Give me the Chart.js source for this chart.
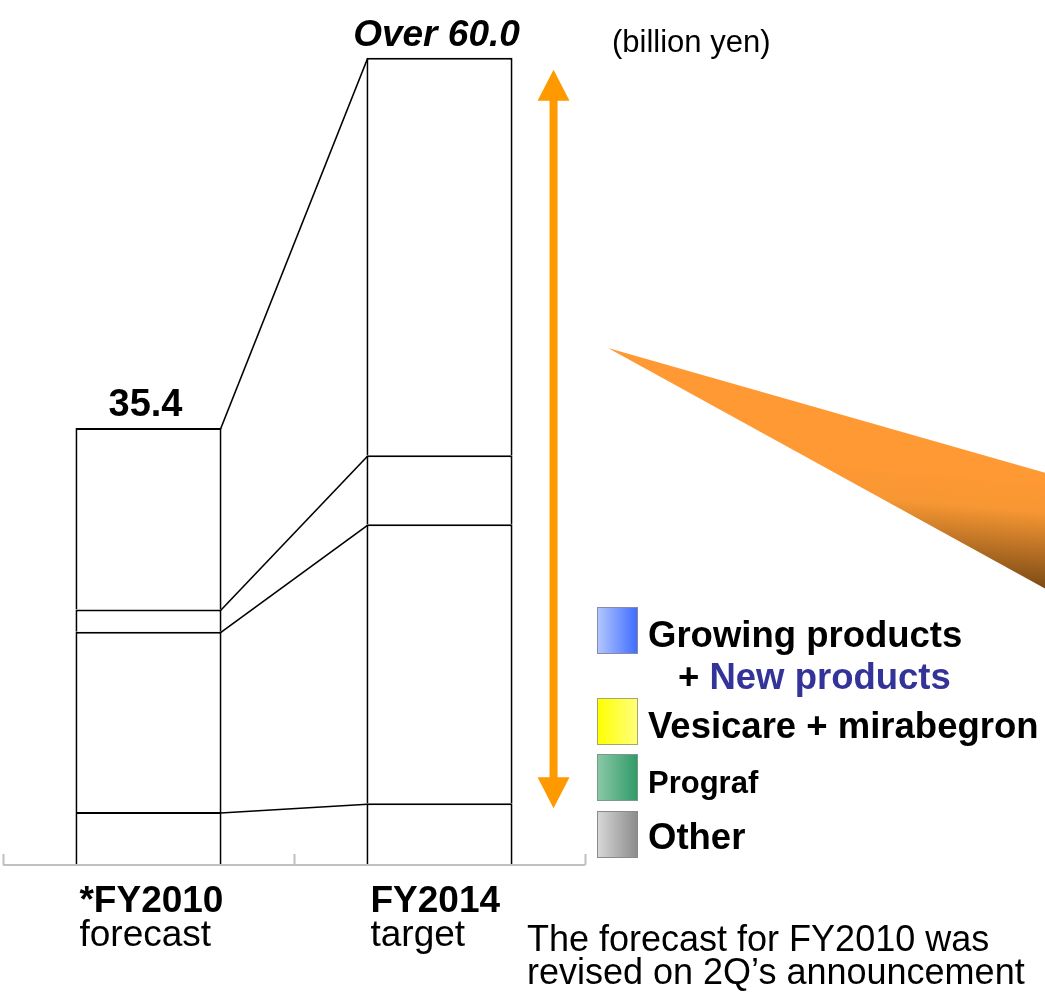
<!DOCTYPE html>
<html>
<head>
<meta charset="utf-8">
<script src="https://cdn.jsdelivr.net/npm/chart.js@4"></script>
<style>
  html, body { margin: 0; padding: 0; background: #fff; }
  #wrap { width: 1045px; height: 994px; position: relative; }
</style>
</head>
<body>
<div id="wrap"><canvas id="chart" width="1045" height="994"></canvas></div>
<script>
// data (billion yen)
const categories = ['FY2010', 'FY2014'];
const tickTop = ['*FY2010', 'FY2014'];
const tickBottom = ['forecast', 'target'];
const totalLabels = ['35.4', 'Over 60.0'];

const otherValues = [4.3, 5.0];
const prografValues = [14.6, 22.6];
const vesicareValues = [1.8, 5.6];
const growingValues = [14.7, 32.2];

const FONT = '"Liberation Sans", Arial, sans-serif';

// legend entries, drawn by hand (mixed colours in one entry)
const legendItems = [
  { colors: ['#b4c8ff', '#3d6bff'], border: '#8a8aa8' },
  { colors: ['#ffff00', '#ffff80'], border: '#a8a860' },
  { colors: ['#8cc8a8', '#2e9a66'], border: '#7a9a8a' },
  { colors: ['#d8d8d8', '#8a8a8a'], border: '#8a8a8a' }
];

function segment(label, values) {
  return {
    label: label,
    data: values,
    backgroundColor: '#ffffff',
    borderColor: '#000000',
    borderWidth: 2,
    barPercentage: 1,
    categoryPercentage: 0.502
  };
}

const extras = {
  id: 'extras',
  afterDatasetsDraw(chart) {
    const ctx = chart.ctx;
    const area = chart.chartArea;
    const xs = chart.scales.x;
    const n = categories.length;
    const metas = chart.data.datasets.map((d, i) => chart.getDatasetMeta(i));

    ctx.save();

    // connecting lines between the two bars
    ctx.strokeStyle = '#000';
    ctx.lineWidth = 1.6;
    metas.forEach(meta => {
      const a = meta.data[0], b = meta.data[1];
      ctx.beginPath();
      ctx.moveTo(a.x + a.width / 2 - 1, a.y + 1);
      ctx.lineTo(b.x - b.width / 2 + 1, b.y + 1);
      ctx.stroke();
    });

    // baseline + inward ticks at category edges
    const step = xs.getPixelForValue(1) - xs.getPixelForValue(0);
    ctx.strokeStyle = '#c0c0c0';
    ctx.lineWidth = 2;
    ctx.beginPath();
    ctx.moveTo(area.left, area.bottom);
    ctx.lineTo(area.right, area.bottom);
    for (let i = 0; i <= n; i++) {
      const x = Math.round(xs.getPixelForValue(0) - step / 2 + i * step) + 0.5;
      ctx.moveTo(x, area.bottom);
      ctx.lineTo(x, area.bottom - 11);
    }
    ctx.stroke();

    // totals above the bars
    const top = metas[metas.length - 1];
    ctx.fillStyle = '#000';
    ctx.textAlign = 'center';
    ctx.textBaseline = 'alphabetic';
    top.data.forEach((el, i) => {
      ctx.font = (i === 1 ? 'italic bold 37px ' : 'bold 38px ') + FONT;
      ctx.fillText(totalLabels[i], el.x - 3, el.y - 12);
    });

    // category labels under the axis
    ctx.textAlign = 'left';
    metas[0].data.forEach((el, i) => {
      const left = el.x - el.width / 2 + 4;
      ctx.font = 'bold 37px ' + FONT;
      ctx.fillText(tickTop[i], left, area.bottom + 47);
      ctx.font = '37px ' + FONT;
      ctx.fillText(tickBottom[i], left, area.bottom + 81);
    });

    // unit and footnote
    ctx.font = '31px ' + FONT;
    ctx.fillText('(billion yen)', 612, 52);
    ctx.font = '36px ' + FONT;
    ctx.fillText('The forecast for FY2010 was', 527, 951);
    ctx.fillText('revised on 2Q\u2019s announcement', 527, 984);

    // orange double arrow beside FY2014
    const b2 = top.data[1];
    const ax = b2.x + b2.width / 2 + 41;
    const yTop = b2.y + 12;
    const yBot = metas[0].data[1].y + 5;
    ctx.fillStyle = '#ff9900';
    ctx.fillRect(ax - 4, yTop + 28, 8, yBot - yTop - 56);
    ctx.beginPath();
    ctx.moveTo(ax, yTop);
    ctx.lineTo(ax + 16, yTop + 31);
    ctx.lineTo(ax - 16, yTop + 31);
    ctx.closePath();
    ctx.fill();
    ctx.beginPath();
    ctx.moveTo(ax, yBot);
    ctx.lineTo(ax + 16, yBot - 31);
    ctx.lineTo(ax - 16, yBot - 31);
    ctx.closePath();
    ctx.fill();

    // orange wedge pointing at the arrow
    const g = ctx.createLinearGradient(970, 470, 960, 590);
    g.addColorStop(0, '#ff9933');
    g.addColorStop(0.3, '#f79733');
    g.addColorStop(1, '#6e4212');
    ctx.fillStyle = g;
    ctx.beginPath();
    ctx.moveTo(608, 348);
    ctx.lineTo(1046, 473);
    ctx.lineTo(1046, 589);
    ctx.closePath();
    ctx.fill();

    // legend
    const rows = [607, 698, 754, 811];
    legendItems.forEach((it, i) => {
      const y = rows[i];
      const lg = ctx.createLinearGradient(597, 0, 638, 0);
      lg.addColorStop(0, it.colors[0]);
      lg.addColorStop(1, it.colors[1]);
      ctx.fillStyle = lg;
      ctx.fillRect(597, y, 41, 47);
      ctx.strokeStyle = it.border;
      ctx.lineWidth = 1;
      ctx.strokeRect(597.5, y + 0.5, 40, 46);
    });
    ctx.fillStyle = '#000';
    ctx.font = 'bold 36.5px ' + FONT;
    ctx.fillText('Growing products', 648, 647);
    ctx.fillText('+', 678, 689);
    const plusW = ctx.measureText('+ ').width;
    ctx.fillStyle = '#333399';
    ctx.fillText('New products', 678 + plusW, 689);
    ctx.fillStyle = '#000';
    ctx.fillText('Vesicare + mirabegron', 648, 738);
    ctx.font = 'bold 31px ' + FONT;
    ctx.fillText('Prograf', 648, 793);
    ctx.font = 'bold 36.5px ' + FONT;
    ctx.fillText('Other', 648, 849);

    ctx.restore();
  }
};

new Chart(document.getElementById('chart'), {
  type: 'bar',
  data: {
    labels: categories,
    datasets: [
      segment('Other', otherValues),
      segment('Prograf', prografValues),
      segment('Vesicare + mirabegron', vesicareValues),
      segment('Growing products + New products', growingValues)
    ]
  },
  options: {
    responsive: false,
    animation: false,
    layout: { padding: { left: 3, right: 460, top: 1, bottom: 129 } },
    scales: {
      x: { stacked: true, display: false },
      y: { stacked: true, display: false, min: 0, max: 70 }
    },
    plugins: {
      legend: { display: false },
      tooltip: { enabled: false }
    }
  },
  plugins: [extras]
});
</script>
</body>
</html>
